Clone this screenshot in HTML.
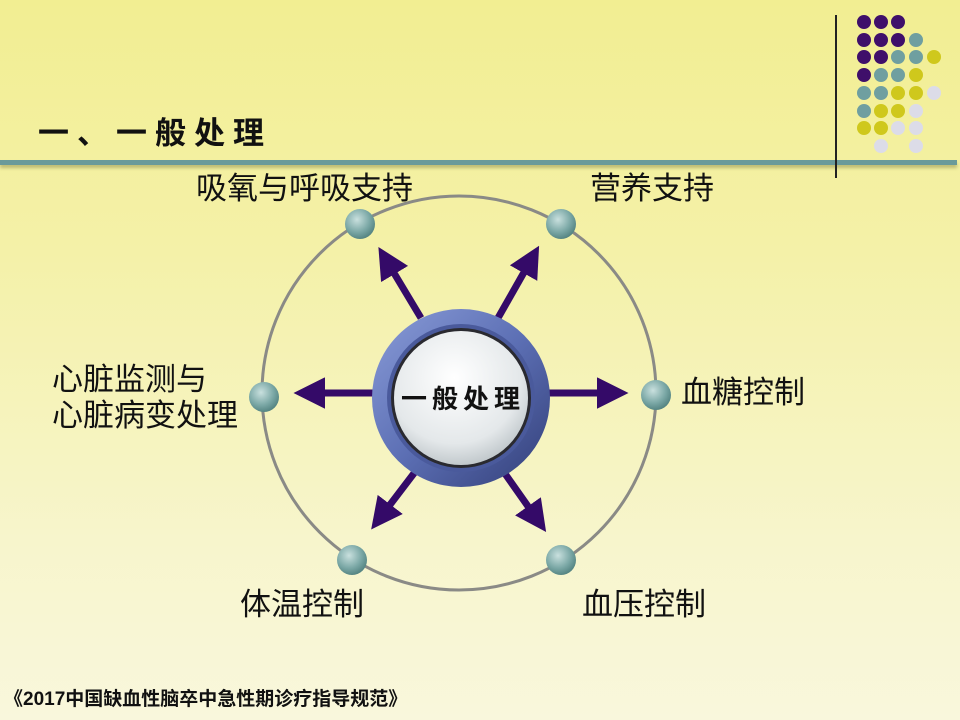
<!DOCTYPE html>
<html><head><meta charset="utf-8"><style>
html,body{margin:0;padding:0;}
body{width:960px;height:720px;position:relative;overflow:hidden;background:linear-gradient(180deg,#f2ee92 0%,#f4f1a8 35%,#f7f5cc 75%,#f9f7dc 100%);font-family:"Liberation Sans","Noto Sans CJK SC",sans-serif;}
.t{position:absolute;white-space:nowrap;color:#111;font-size:31px;line-height:36px;}
</style></head><body>
<div class="t" style="left:38px;top:111px;font-size:31px;font-weight:bold;letter-spacing:8px;line-height:40px;font-family:'Noto Sans CJK SC',sans-serif;">一、一般处理</div>
<div style="position:absolute;left:0;top:160px;width:957px;height:5px;background:#6a9a9a;box-shadow:0 3px 3px rgba(120,120,60,0.45);"></div>
<div style="position:absolute;left:835px;top:15px;width:2px;height:163px;background:#222;"></div>
<svg width="960" height="720" style="position:absolute;left:0;top:0">
<defs>
<radialGradient id="node" cx="40%" cy="35%" r="70%"><stop offset="0" stop-color="#c9e0de"/><stop offset="0.6" stop-color="#7ba8a6"/><stop offset="1" stop-color="#4f7f7d"/></radialGradient>
<linearGradient id="ring" x1="0" y1="0" x2="1" y2="1"><stop offset="0" stop-color="#8a9cd8"/><stop offset="0.5" stop-color="#5c6fb4"/><stop offset="1" stop-color="#323e78"/></linearGradient>
<radialGradient id="face" cx="45%" cy="35%" r="70%"><stop offset="0" stop-color="#ffffff"/><stop offset="0.7" stop-color="#e4e8ea"/><stop offset="1" stop-color="#b8c0c4"/></radialGradient>
<marker id="ah" markerWidth="4.5" markerHeight="4.5" refX="1" refY="2.25" orient="auto" markerUnits="strokeWidth"><path d="M0,0 L4.5,2.25 L0,4.5 z" fill="#340a68"/></marker>
</defs>
<g fill="#3f0f6a">
<circle cx="864" cy="22" r="7"/><circle cx="881" cy="22" r="7"/><circle cx="898" cy="22" r="7"/>
<circle cx="864" cy="40" r="7"/><circle cx="881" cy="40" r="7"/><circle cx="898" cy="40" r="7"/>
<circle cx="864" cy="57" r="7"/><circle cx="881" cy="57" r="7"/>
<circle cx="864" cy="75" r="7"/>
</g>
<g fill="#6f9fa0">
<circle cx="916" cy="40" r="7"/><circle cx="898" cy="57" r="7"/><circle cx="916" cy="57" r="7"/>
<circle cx="881" cy="75" r="7"/><circle cx="898" cy="75" r="7"/>
<circle cx="864" cy="93" r="7"/><circle cx="881" cy="93" r="7"/><circle cx="864" cy="111" r="7"/>
</g>
<g fill="#cfc81c">
<circle cx="934" cy="57" r="7"/><circle cx="916" cy="75" r="7"/><circle cx="898" cy="93" r="7"/><circle cx="916" cy="93" r="7"/>
<circle cx="881" cy="111" r="7"/><circle cx="898" cy="111" r="7"/><circle cx="864" cy="128" r="7"/><circle cx="881" cy="128" r="7"/>
</g>
<g fill="#dcdce8">
<circle cx="934" cy="93" r="7"/><circle cx="916" cy="111" r="7"/><circle cx="898" cy="128" r="7"/><circle cx="916" cy="128" r="7"/>
<circle cx="881" cy="146" r="7"/><circle cx="916" cy="146" r="7"/>
</g>
<circle cx="459" cy="393" r="197" fill="none" stroke="#8a8a86" stroke-width="3"/>
<g stroke="#340a68" stroke-width="7" marker-end="url(#ah)">
<line x1="421" y1="318" x2="391" y2="268"/>
<line x1="498" y1="318" x2="527" y2="267"/>
<line x1="374" y1="393" x2="318" y2="393"/>
<line x1="548" y1="393" x2="604" y2="393"/>
<line x1="418" y1="468" x2="386" y2="510"/>
<line x1="501" y1="468" x2="532" y2="512"/>
</g>
<circle cx="461" cy="398" r="89" fill="url(#ring)"/>
<circle cx="461" cy="398" r="74" fill="#4a5a9c"/>
<circle cx="461" cy="398" r="70" fill="#2a2a30"/>
<circle cx="461" cy="398" r="67" fill="url(#face)"/>
<text x="463" y="408" text-anchor="middle" font-size="26" font-weight="bold" letter-spacing="5" font-family="'Noto Sans CJK SC',sans-serif" fill="#111">一般处理</text>
<g fill="url(#node)">
<circle cx="360" cy="224" r="15"/><circle cx="561" cy="224" r="15"/>
<circle cx="264" cy="397" r="15"/><circle cx="656" cy="395" r="15"/>
<circle cx="352" cy="560" r="15"/><circle cx="561" cy="560" r="15"/>
</g>
</svg>
<div class="t" style="left:196px;top:171px;">吸氧与呼吸支持</div>
<div class="t" style="left:590px;top:171px;">营养支持</div>
<div class="t" style="left:52px;top:362px;line-height:36px;">心脏监测与<br>心脏病变处理</div>
<div class="t" style="left:681px;top:375px;">血糖控制</div>
<div class="t" style="left:240px;top:587px;">体温控制</div>
<div class="t" style="left:582px;top:587px;">血压控制</div>
<div class="t" style="left:4px;top:687px;font-size:19px;line-height:26px;font-weight:bold;">《2017中国缺血性脑卒中急性期诊疗指导规范》</div>
</body></html>
